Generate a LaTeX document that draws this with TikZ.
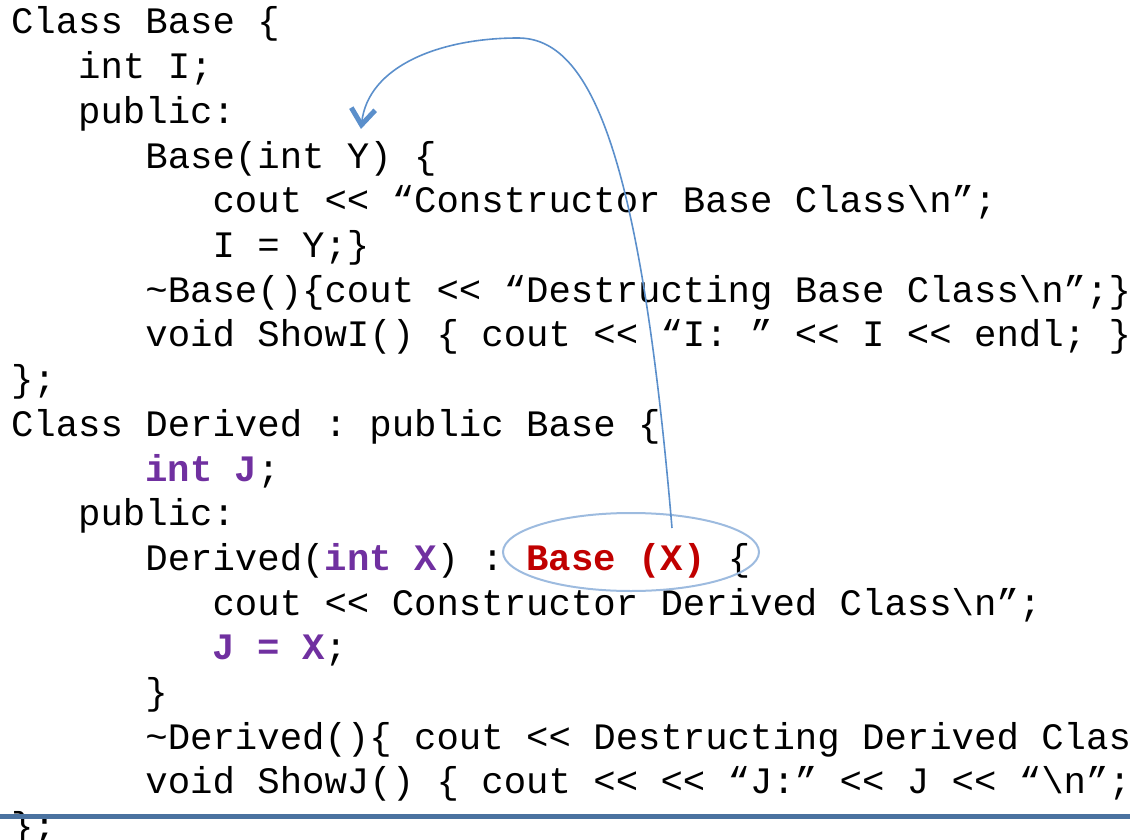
\documentclass[tikz,border=0pt]{standalone}
\usepackage{fontspec}
\setmonofont{Liberation Mono}
\usetikzlibrary{arrows.meta,shapes.geometric}
\definecolor{kwpurple}{HTML}{7030A0}
\definecolor{callred}{HTML}{C00000}
\definecolor{linkblue}{HTML}{5B8FCB}
\definecolor{ringblue}{HTML}{9DBBDF}
\definecolor{barblue}{HTML}{4A72A0}
\newcommand{\kw}[1]{\textbf{\color{kwpurple}#1}}
\newcommand{\call}[1]{\textbf{\color{callred}#1}}
\newcommand{\bs}{\textbackslash}
\begin{document}
\begin{tikzpicture}[x=1pt,y=-1pt,
  code/.style={anchor=base west,inner sep=0pt,outer sep=0pt,
    font=\ttfamily\fontsize{37.33}{44.7}\selectfont,text=black},
  ring/.style={ellipse,draw=ringblue,line width=2pt,inner sep=0pt},
  link/.style={draw=linkblue,line width=1.6pt,
    -{Straight Barb[length=16pt,width=24pt,line width=5pt]}}]
\useasboundingbox (0,0) rectangle (1130,840);
\clip (0,0) rectangle (1130,840);
% code lines: column = 11 + 22.4*indent, baseline = 34 + 44.7*row
\node[code] (l1)  at (11.0, 34.0)  {Class Base \{};
\node[code] (l2)  at (78.2, 78.7)  {int I;};
\node[code] (l3)  at (78.2, 123.4) {public:};
\node[code] (l4)  at (145.4,168.1) {Base(int Y) \{};
\node[code] (l5)  at (212.6,212.8) {cout << “Constructor Base Class\bs{}n”;};
\node[code] (l6)  at (212.6,257.5) {I = Y;\}};
\node[code] (l7)  at (145.4,302.2) {\textasciitilde{}Base()\{cout << “Destructing Base Class\bs{}n”;\}};
\node[code] (l8)  at (145.4,346.9) {void ShowI() \{ cout << “I: ” << I << endl; \}};
\node[code] (l9)  at (11.0, 391.6) {\};};
\node[code] (l10) at (11.0, 436.3) {Class Derived : public Base \{};
\node[code] (l11) at (145.4,481.0) {\kw{int J};};
\node[code] (l12) at (78.2, 525.7) {public:};
\node[code] (l13) at (145.4,570.4) {Derived(\kw{int X}) : \call{Base (X)} \{};
\node[code] (l14) at (212.6,615.1) {cout << Constructor Derived Class\bs{}n”;};
\node[code] (l15) at (212.6,659.8) {\kw{J = X};};
\node[code] (l16) at (145.4,704.5) {\}};
\node[code] (l17) at (145.4,749.2) {\textasciitilde{}Derived()\{ cout << Destructing Derived Class\bs{}n”;\}};
\node[code] (l18) at (145.4,793.9) {void ShowJ() \{ cout << << “J:” << J << “\bs{}n”; \}};
\node[code] (l19) at (11.0, 838.6) {\};};
% ring around the base-class call and the link back to the base constructor
\node[ring,minimum width=256pt,minimum height=78pt] (callring) at (631,552) {};
\coordinate (src) at (672,528);
\coordinate (top) at (518,38);
\coordinate (dst) at (361,129);
\draw[link] (src) .. controls (640,150) and (590,38) .. (top)
                  .. controls (440,38) and (368,66) .. (dst);
% footer rule
\fill[barblue] (0,814) rectangle (1130,819);
\end{tikzpicture}
\end{document}
